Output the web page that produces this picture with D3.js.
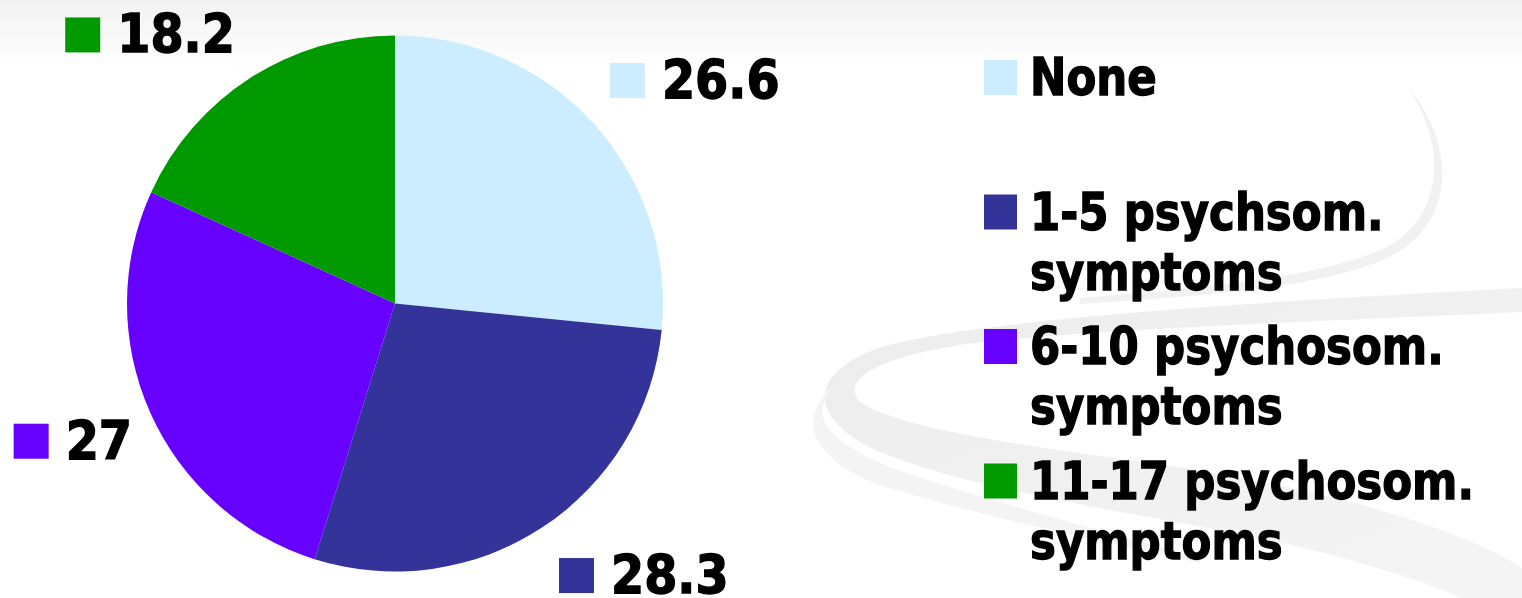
<!DOCTYPE html>
<html>
<head>
<meta charset="utf-8">
<script src="https://cdn.jsdelivr.net/npm/d3@7"></script>
<style>
  html, body { margin: 0; padding: 0; background: #ffffff; }
  svg { display: block; }
  text { font-family: "DejaVu Sans Condensed", "DejaVu Sans", sans-serif; font-weight: bold; fill: #000; stroke: #000; stroke-width: 1.3px; }
</style>
</head>
<body>
<svg id="chart" width="1522" height="598"></svg>
<script>
// ---- data ----
const categories = ["None", "1-5 psychsom. symptoms", "6-10 psychosom. symptoms", "11-17 psychosom. symptoms"];
const legendLines = [["None", ""], ["1-5 psychsom.", "symptoms"], ["6-10 psychosom.", "symptoms"], ["11-17 psychosom.", "symptoms"]];
const values = [26.6, 28.3, 27, 18.2];
const valueLabels = ["26.6", "28.3", "27", "18.2"];
const colors = ["#CCECFF", "#333399", "#6600FF", "#009900"];

// ---- layout ----
const W = 1522, H = 598;
const cx = 395, cy = 303.5, R = 268;
const labelRadius = 368;
const labelNudge = [[27, 24], [46, -35], [14, -12], [-46, 41]];
const fontSize = 53;
const legendX = 984, legendTextX = 1030, legendTop = 95, legendStep = 134.5, legendLineGap = 60;
const legendSqueeze = 0.93;
const sw = 35, gap = 17;

const svg = d3.select("#chart");

// background
const defs = svg.append("defs");
const g1 = defs.append("linearGradient").attr("id", "topGrad").attr("x1", 0).attr("y1", 0).attr("x2", 0).attr("y2", 1);
g1.append("stop").attr("offset", "0%").attr("stop-color", "#f2f2f2");
g1.append("stop").attr("offset", "100%").attr("stop-color", "#ffffff");
const g2 = defs.append("linearGradient").attr("id", "swGrad").attr("x1", 0).attr("y1", 0).attr("x2", 1).attr("y2", 1);
g2.append("stop").attr("offset", "0%").attr("stop-color", "#ececec");
g2.append("stop").attr("offset", "100%").attr("stop-color", "#f5f5f5");

svg.append("rect").attr("width", W).attr("height", H).attr("fill", "#ffffff");
svg.append("rect").attr("width", W).attr("height", 70).attr("fill", "url(#topGrad)");

// decorative swooshes
svg.append("path")
  .attr("d", "M1407,86 C1445,140 1448,215 1385,248 C1320,278 1200,288 1080,298 L1080,304 C1210,296 1335,286 1395,254 C1462,215 1450,135 1407,86 Z")
  .attr("fill", "#f1f1f1");
svg.append("path")
  .attr("d", "M1522,288 C1300,300 1000,316 885,346 C805,372 808,418 875,450 C1000,502 1200,518 1350,560 C1420,580 1450,592 1460,598 L1522,598 L1522,568 C1450,522 1300,484 1150,463 C1000,443 888,425 858,400 C840,373 900,350 1000,340 C1200,324 1400,318 1522,312 Z")
  .attr("fill", "url(#swGrad)");
svg.append("path")
  .attr("d", "M838,382 C808,410 818,440 898,470 C1000,505 1100,530 1200,558 L1200,563 C1080,538 960,510 880,485 C800,455 800,410 838,382 Z")
  .attr("fill", "#f4f4f4");

// pie
const pie = d3.pie().sort(null).value(d => d);
const arcs = pie(values);
const arc = d3.arc().innerRadius(0).outerRadius(R);
const gp = svg.append("g").attr("transform", `translate(${cx},${cy})`);
gp.selectAll("path").data(arcs).join("path")
  .attr("d", arc)
  .attr("fill", (d, i) => colors[i]);

// data labels with legend keys
arcs.forEach((d, i) => {
  const a = (d.startAngle + d.endAngle) / 2;
  const px = cx + labelRadius * Math.sin(a) + labelNudge[i][0];
  const py = cy - labelRadius * Math.cos(a) + labelNudge[i][1];
  const g = svg.append("g");
  const t = g.append("text").attr("font-size", fontSize).text(valueLabels[i]);
  const tw = t.node().getComputedTextLength();
  const total = sw + gap + tw;
  const left = px - total / 2;
  const bottom = py + sw / 2;
  g.insert("rect", "text").attr("x", left).attr("y", bottom - sw).attr("width", sw).attr("height", sw).attr("fill", colors[i]);
  t.attr("x", left + sw + gap).attr("y", bottom);
});

// legend
const lg = svg.append("g");
legendLines.forEach((lines, i) => {
  const base = legendTop + i * legendStep;
  lg.append("rect").attr("x", legendX).attr("y", base - sw).attr("width", 33).attr("height", sw).attr("fill", colors[i]);
  lines.forEach((ln, j) => {
    if (!ln) return;
    lg.append("text")
      .attr("transform", `translate(${legendTextX},${base + j * legendLineGap}) scale(${legendSqueeze},1)`)
      .attr("font-size", 52).text(ln);
  });
});
</script>
</body>
</html>
